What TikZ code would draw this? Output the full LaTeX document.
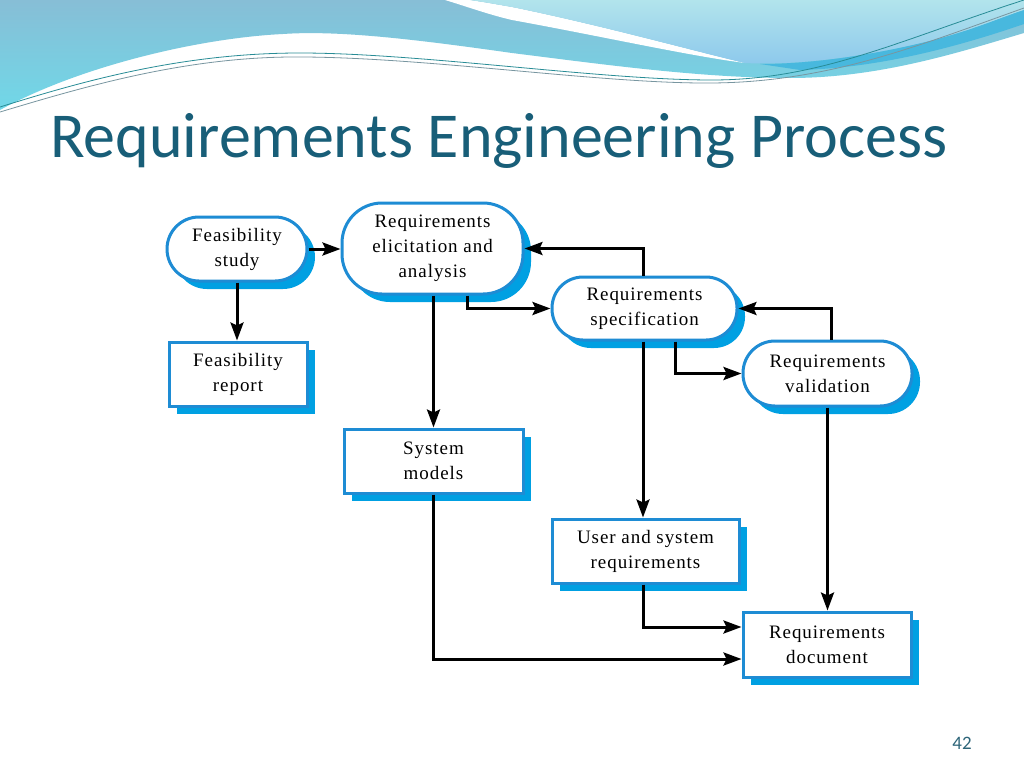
\documentclass[tikz,border=0pt]{standalone}
\usepackage{fontspec}
\setmainfont{Liberation Serif}
\newfontfamily\titlefont{Carlito}
\newfontfamily\boxfont[LetterSpace=5]{Liberation Serif}
\usetikzlibrary{arrows.meta,shadows}
\definecolor{bordblue}{RGB}{30,140,212}
\definecolor{shadowblue}{RGB}{0,160,226}
\definecolor{titleteal}{RGB}{24,94,120}
\definecolor{topblueA}{RGB}{135,190,214}
\definecolor{topblueB}{RGB}{112,216,232}
\definecolor{rightA}{RGB}{178,228,236}
\definecolor{rightB}{RGB}{140,200,236}
\definecolor{stripeblue}{RGB}{72,184,222}
\definecolor{waveteal}{RGB}{40,140,150}
\definecolor{wavegray}{RGB}{120,150,160}
\tikzset{
  procnode/.style={rectangle, draw=bordblue, line width=3pt, fill=white,
    inner sep=0pt, align=center, font=\boxfont\fontsize{19}{25}\selectfont,
    drop shadow={shadow xshift=8pt, shadow yshift=-8pt, fill=shadowblue, opacity=1}},
  arr/.style={draw=black, line width=3pt, -{Stealth[length=18pt,width=13pt,inset=3pt]}}
}
\begin{document}
\begin{tikzpicture}[x=1pt,y=-1pt]
\useasboundingbox (0,0) rectangle (1024,768);
\fill[white] (0,0) rectangle (1024,768);
% top decoration
\shade[top color=topblueA, bottom color=topblueB]
  (0,0) -- (1024,0) -- (1024,33) .. controls (960,52) and (880,78) .. (790,78)
  .. controls (700,78) and (600,64) .. (512,53) .. controls (420,40) and (340,30) .. (283,34)
  .. controls (200,38) and (80,66) .. (0,110) -- cycle;
\fill[white] (445,0) -- (470,0) .. controls (490,3) and (500,5) .. (512,7)
  .. controls (600,25) and (690,50) .. (745,63)
  .. controls (690,56) and (600,36) .. (512,20) .. controls (490,15) and (465,6) .. (445,0) -- cycle;
\shade[top color=rightA, bottom color=rightB]
  (470,0) .. controls (490,3) and (500,5) .. (512,7) .. controls (600,25) and (690,50) .. (745,63)
  .. controls (800,66) and (880,55) .. (945,37) .. controls (980,27) and (1000,18) .. (1024,10)
  -- (1024,0) -- cycle;
\fill[stripeblue] (760,64) .. controls (820,64) and (890,52) .. (945,37)
  .. controls (980,27) and (1000,18) .. (1024,10) -- (1024,24)
  .. controls (960,46) and (880,68) .. (800,70) -- cycle;
\draw[waveteal, line width=0.8pt] (0,107) .. controls (80,82) and (180,53) .. (300,53)
  .. controls (420,53) and (600,80) .. (712,80) .. controls (820,80) and (900,40) .. (1024,0);
\draw[wavegray, line width=0.8pt] (0,112) .. controls (80,88) and (180,58) .. (290,57)
  .. controls (420,56) and (600,84) .. (712,83) .. controls (830,82) and (920,45) .. (1024,8);
% title
\node[anchor=base west, inner sep=0pt, text=titleteal, font=\titlefont\fontsize{64}{64}\selectfont]
  (title) at (50,157) {Requirements Engineering Process};
\node[anchor=base, inner sep=0pt, text=titleteal!80!gray, font=\titlefont\fontsize{19}{19}\selectfont]
  (pagenum) at (962,749) {42};
% nodes
\node[procnode, rounded corners=32pt, minimum width=140pt, minimum height=64pt] (fs) at (237,249) {Feasibility\\study};
\node[procnode, minimum width=138pt, minimum height=64pt] (fr) at (238,374) {Feasibility\\report};
\node[procnode, rounded corners=40pt, minimum width=181pt, minimum height=91pt] (rea) at (432.5,248.5) {Requirements\\elicitation and\\analysis};
\node[procnode, rounded corners=31pt, minimum width=185pt, minimum height=63pt] (rs) at (644.5,308.5) {Requirements\\specification};
\node[procnode, rounded corners=32pt, minimum width=169pt, minimum height=65pt] (rv) at (827.5,373.5) {Requirements\\validation};
\node[procnode, minimum width=179pt, minimum height=64pt] (sm) at (433.5,461) {System\\models};
\node[procnode, minimum width=187pt, minimum height=64pt] (us) at (645.5,551) {User and system\\requirements};
\node[procnode, minimum width=168pt, minimum height=65pt] (rd) at (827,644.5) {Requirements\\document};
% connectors
\draw[arr] (fs.east) -- (fs.east -| rea.west);
\draw[arr] (fs.south) -- (fs.south |- fr.north);
\draw[arr] (sm.north |- rea.south) -- (sm.north);
\draw[arr] ([xshift=34.5pt]rea.south) |- (rs.west);
\draw[arr] ([xshift=-1.5pt]rs.north) |- (rea.east);
\draw[arr] ([xshift=-1.5pt]rs.south) -- ([xshift=-2.5pt]us.north);
\draw[arr] ([xshift=30.5pt]rs.south) |- (rv.west);
\draw[arr] ([xshift=3.5pt]rv.north) |- (rs.east);
\draw[arr] (rv.south) -- (rv.south |- rd.north);
\draw[arr] ([xshift=-2.5pt]us.south) |- ([yshift=17.5pt]rd.west);
\draw[arr] (sm.south) |- ([yshift=-14.5pt]rd.west);
\end{tikzpicture}
\end{document}
